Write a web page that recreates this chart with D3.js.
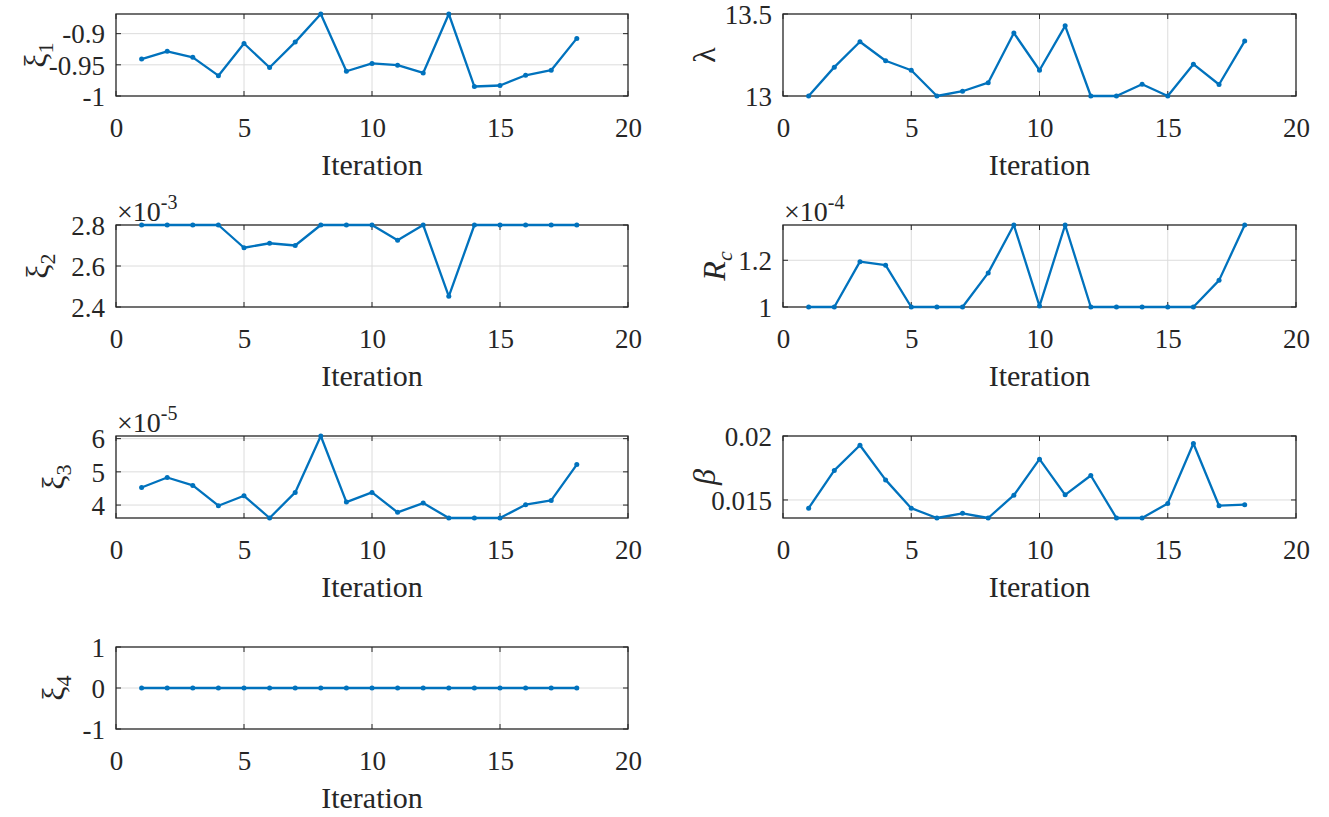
<!DOCTYPE html>
<html><head><meta charset="utf-8">
<script src="https://cdn.jsdelivr.net/npm/d3@7"></script>
</head><body style="margin:0;background:#fff">
<svg id="c" width="1329" height="817" style="display:block"></svg>
<script>
// ---------- data ----------
const iterations = [1,2,3,4,5,6,7,8,9,10,11,12,13,14,15,16,17,18];
const xTicks = [0,5,10,15,20];

const xi1 = [-0.9408,-0.9283,-0.9380,-0.9674,-0.9158,-0.9543,-0.9136,-0.8685,-0.9603,
             -0.9478,-0.9505,-0.9630,-0.8685,-0.9848,-0.9832,-0.9668,-0.9587,-0.9076];
const xi1Ticks = [-1,-0.95,-0.9];

const lambda = [13.000,13.176,13.331,13.215,13.157,13.000,13.029,13.081,13.384,
                13.157,13.428,13.000,13.000,13.072,13.000,13.194,13.070,13.335];
const lambdaTicks = [13,13.5];

const xi2 = [2.800e-3,2.800e-3,2.800e-3,2.800e-3,2.689e-3,2.711e-3,2.700e-3,2.800e-3,2.800e-3,
             2.800e-3,2.726e-3,2.800e-3,2.452e-3,2.800e-3,2.800e-3,2.800e-3,2.800e-3,2.800e-3];
const xi2Ticks = [2.4e-3,2.6e-3,2.8e-3];

const Rc = [1.000e-4,1.000e-4,1.194e-4,1.179e-4,1.000e-4,1.000e-4,1.000e-4,1.146e-4,1.351e-4,
            1.004e-4,1.351e-4,1.000e-4,1.000e-4,1.000e-4,1.000e-4,1.000e-4,1.114e-4,1.351e-4];
const RcTicks = [1.0e-4,1.2e-4];

const xi3 = [4.53e-5,4.83e-5,4.59e-5,3.98e-5,4.28e-5,3.61e-5,4.38e-5,6.08e-5,4.09e-5,
             4.38e-5,3.78e-5,4.06e-5,3.61e-5,3.61e-5,3.61e-5,4.01e-5,4.14e-5,5.22e-5];
const xi3Ticks = [4e-5,5e-5,6e-5];

const beta = [0.01436,0.01731,0.01928,0.01657,0.01436,0.01359,0.01396,0.01359,0.01537,
              0.01819,0.01540,0.01691,0.01359,0.01359,0.01473,0.01941,0.01455,0.01463];
const betaTicks = [0.015,0.02];

const xi4 = [0,0,0,0,0,0,0,0,0,0,0,0,0,0,0,0,0,0];
const xi4Ticks = [-1,0,1];

// ---------- panels ----------
const panels = [
  {values: xi1,    ticks: xi1Ticks,    domain: [-1, -0.8685],     exp: 0,  col: 0, row: 0, label: {main: "ξ", sub: "1"}, labelDx: 80},
  {values: lambda, ticks: lambdaTicks, domain: [13, 13.5],         exp: 0,  col: 1, row: 0, label: {main: "λ"}, labelDx: 78},
  {values: xi2,    ticks: xi2Ticks,    domain: [2.4e-3, 2.8e-3],   exp: -3, col: 0, row: 1, label: {main: "ξ", sub: "2"}, labelDx: 78},
  {values: Rc,     ticks: RcTicks,     domain: [1e-4, 1.351e-4],   exp: -4, col: 1, row: 1, label: {main: "R", sub: "c", italic: true}, labelDx: 68},
  {values: xi3,    ticks: xi3Ticks,    domain: [3.61e-5, 6.08e-5], exp: -5, col: 0, row: 2, label: {main: "ξ", sub: "3"}, labelDx: 62},
  {values: beta,   ticks: betaTicks,   domain: [0.01359, 0.02],    exp: 0,  col: 1, row: 2, label: {main: "β", italic: true}, labelDx: 78},
  {values: xi4,    ticks: xi4Ticks,    domain: [-1, 1],            exp: 0,  col: 0, row: 3, label: {main: "ξ", sub: "4"}, labelDx: 62}
];

// ---------- layout ----------
const FONT = '"Liberation Serif"';
const colX = [[116, 628], [783, 1296]];
const rowTop = [14, 225, 436, 647];
const boxH = 82;
const lineColor = "#0072BD";
const axisColor = "#262626";
const gridColor = "#dcdcdc";
const tickFont = 27, labelFont = 30;
const tickLen = 5;

const svg = d3.select("#c").attr("font-family", FONT);

function fmtTick(v, exp) {
  return String(+(v / Math.pow(10, exp)).toFixed(6));
}

panels.forEach(p => {
  const [x0, x1] = colX[p.col];
  const y0 = rowTop[p.row], y1 = y0 + boxH;
  const x = d3.scaleLinear().domain([0, 20]).range([x0, x1]);
  const y = d3.scaleLinear().domain(p.domain).range([y1, y0]);
  const g = svg.append("g");

  // grid
  g.selectAll(".gx").data(xTicks.filter(t => t > 0 && t < 20)).join("line")
    .attr("x1", d => x(d)).attr("x2", d => x(d)).attr("y1", y0).attr("y2", y1)
    .attr("stroke", gridColor).attr("stroke-width", 1);
  g.selectAll(".gy").data(p.ticks.filter(t => y(t) > y0 + 0.5 && y(t) < y1 - 0.5)).join("line")
    .attr("x1", x0).attr("x2", x1).attr("y1", d => y(d)).attr("y2", d => y(d))
    .attr("stroke", gridColor).attr("stroke-width", 1);

  // axes via d3
  const xAxis = d3.axisBottom(x).tickValues(xTicks).tickSize(0).tickPadding(22).tickFormat(d => String(d));
  const gx = g.append("g").attr("transform", `translate(0,${y1})`).call(xAxis)
    .attr("font-family", FONT).attr("font-size", tickFont);
  gx.select(".domain").remove();
  gx.selectAll("text").attr("font-family", FONT).attr("font-size", tickFont).attr("fill", axisColor);

  const yAxis = d3.axisLeft(y).tickValues(p.ticks).tickSize(0).tickPadding(11).tickFormat(d => fmtTick(d, p.exp));
  const gy = g.append("g").attr("transform", `translate(${x0},0)`).call(yAxis)
    .attr("font-family", FONT).attr("font-size", tickFont);
  gy.select(".domain").remove();
  gy.selectAll("text").attr("font-family", FONT).attr("font-size", tickFont).attr("fill", axisColor).attr("dy", "0.34em");

  // inward ticks on all four sides
  xTicks.forEach(t => {
    g.append("line").attr("x1", x(t)).attr("x2", x(t)).attr("y1", y1).attr("y2", y1 - tickLen).attr("stroke", axisColor);
    g.append("line").attr("x1", x(t)).attr("x2", x(t)).attr("y1", y0).attr("y2", y0 + tickLen).attr("stroke", axisColor);
  });
  p.ticks.forEach(t => {
    g.append("line").attr("x1", x0).attr("x2", x0 + tickLen).attr("y1", y(t)).attr("y2", y(t)).attr("stroke", axisColor);
    g.append("line").attr("x1", x1).attr("x2", x1 - tickLen).attr("y1", y(t)).attr("y2", y(t)).attr("stroke", axisColor);
  });

  // box
  g.append("rect").attr("x", x0).attr("y", y0).attr("width", x1 - x0).attr("height", boxH)
    .attr("fill", "none").attr("stroke", axisColor).attr("stroke-width", 1.3);

  // line + markers
  const line = d3.line().x((d, i) => x(iterations[i])).y(d => y(d));
  g.append("path").datum(p.values).attr("d", line)
    .attr("fill", "none").attr("stroke", lineColor).attr("stroke-width", 2.3).attr("stroke-linejoin", "round");
  g.selectAll(".pt").data(p.values).join("circle")
    .attr("cx", (d, i) => x(iterations[i])).attr("cy", d => y(d)).attr("r", 2.5).attr("fill", lineColor);

  // x label
  g.append("text").attr("x", (x0 + x1) / 2).attr("y", y1 + 79).attr("text-anchor", "middle")
    .attr("font-family", FONT).attr("font-size", labelFont).attr("fill", axisColor).text("Iteration");

  // y label
  const lt = g.append("text")
    .attr("transform", `translate(${x0 - p.labelDx},${(y0 + y1) / 2}) rotate(-90)`)
    .attr("text-anchor", "middle").attr("font-family", FONT).attr("font-size", labelFont + 2).attr("fill", axisColor)
    .attr("dy", "0.3em");
  lt.append("tspan").text(p.label.main).attr("font-style", p.label.italic ? "italic" : "normal");
  if (p.label.sub) {
    lt.append("tspan").attr("dy", 7).attr("font-size", 22)
      .attr("font-style", p.label.italic ? "italic" : "normal").text(p.label.sub);
  }

  // exponent
  if (p.exp !== 0) {
    const et = g.append("text").attr("x", x0 + 1).attr("y", y0 - 4)
      .attr("font-family", FONT).attr("font-size", 28).attr("fill", axisColor);
    et.append("tspan").text("×10");
    et.append("tspan").attr("dy", -12).attr("font-size", 20).text(String(p.exp));
  }
});
</script>
</body></html>
